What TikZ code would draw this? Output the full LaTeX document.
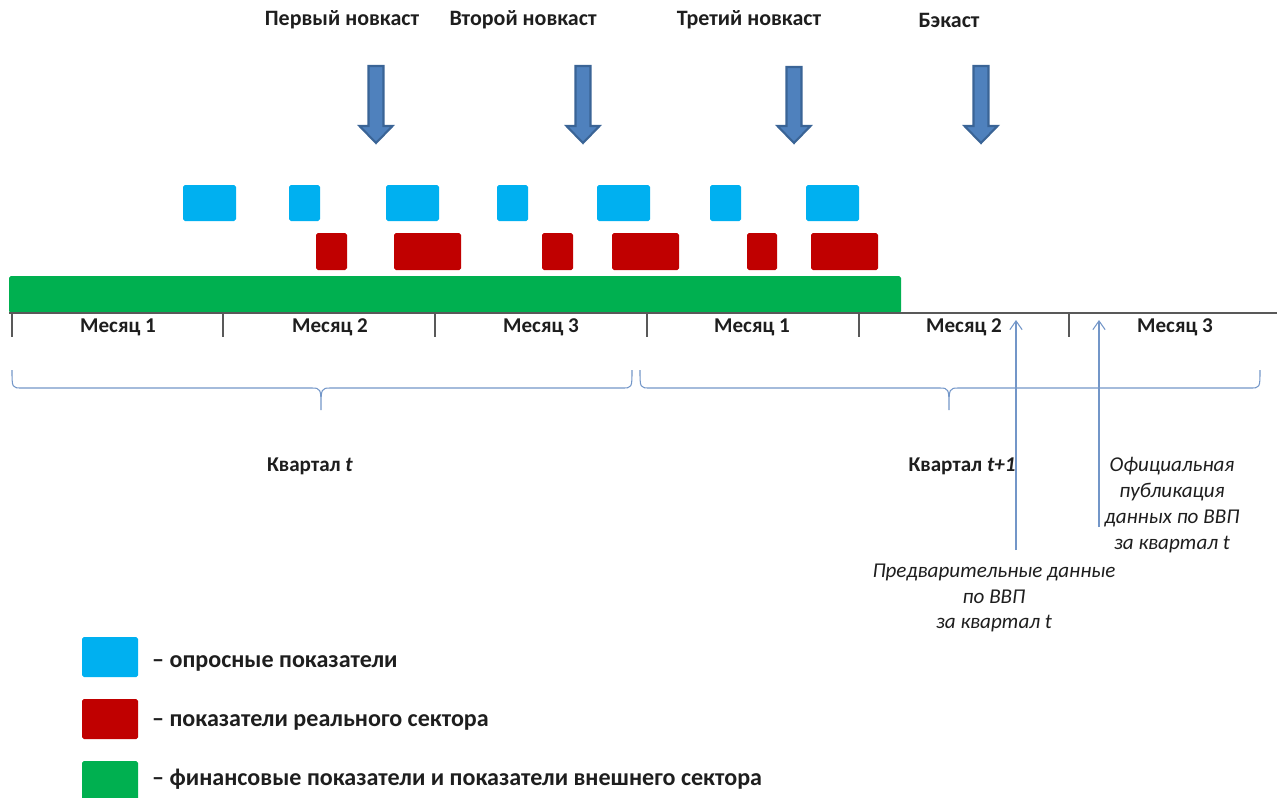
\documentclass[tikz,border=0pt]{standalone}
\usepackage{fontspec}
\setmainfont{Carlito}
\usetikzlibrary{arrows.meta}

\definecolor{survey}{HTML}{00B0F0}
\definecolor{realsec}{HTML}{C00000}
\definecolor{finsec}{HTML}{00B050}
\definecolor{arrowfill}{HTML}{4F81BD}
\definecolor{arrowedge}{HTML}{3A6496}
\definecolor{thinblue}{HTML}{7396C8}
\definecolor{axisgray}{HTML}{595959}
\definecolor{ink}{HTML}{1E1E1E}

\tikzset{
  heading/.style={font=\bfseries\fontsize{12.5}{14}\selectfont, text=ink},
  quarter/.style={font=\bfseries\fontsize{12}{14}\selectfont, text=ink},
  month/.style={font=\bfseries\fontsize{12}{14}\selectfont, text=ink},
  note/.style={font=\itshape\fontsize{12}{14.7}\selectfont, align=center, text=ink},
  legendtext/.style={font=\bfseries\fontsize{13.7}{15}\selectfont, anchor=west, text=ink},
  blockarrow/.style={fill=arrowfill, draw=arrowedge, line width=1.2pt, line join=miter},
  chip/.style={rounded corners=1pt},
  qbrace/.style={draw=thinblue, line width=0.6pt},
  pointer/.style={draw=thinblue, line width=0.6pt, -{Straight Barb[length=5pt,width=7pt]}}
}

\begin{document}
\begin{tikzpicture}[x=0.02cm, y=-0.02cm]
      \useasboundingbox (0,0) rectangle (1279,798);

      % forecast labels
      \node[heading] (nc1) at (342,20) {Первый новкаст};
      \node[heading] (nc2) at (523,20) {Второй новкаст};
      \node[heading] (nc3) at (749,20) {Третий новкаст};
      \node[heading] (bc) at (949,20) {Бэкаст};

      \begin{scope}[shift={(376,0)}]
        \draw[blockarrow] (-7.5,66) -- (7.5,66) -- (7.5,126) -- (16.5,126) -- (0,143) -- (-16.5,126) -- (-7.5,126) -- cycle;
      \end{scope}
      \begin{scope}[shift={(583,0)}]
        \draw[blockarrow] (-7.5,66) -- (7.5,66) -- (7.5,126) -- (16.5,126) -- (0,143) -- (-16.5,126) -- (-7.5,126) -- cycle;
      \end{scope}
      \begin{scope}[shift={(794,0)}]
        \draw[blockarrow] (-7.5,67) -- (7.5,67) -- (7.5,126) -- (16.5,126) -- (0,143) -- (-16.5,126) -- (-7.5,126) -- cycle;
      \end{scope}
      \begin{scope}[shift={(981,0)}]
        \draw[blockarrow] (-7.5,66) -- (7.5,66) -- (7.5,126) -- (16.5,126) -- (0,143) -- (-16.5,126) -- (-7.5,126) -- cycle;
      \end{scope}

      % survey indicators
      \fill[survey, chip] (183,185) rectangle (236,221);
      \fill[survey, chip] (289,185) rectangle (320,221);
      \fill[survey, chip] (386,185) rectangle (439,221);
      \fill[survey, chip] (497,185) rectangle (528,221);
      \fill[survey, chip] (597,185) rectangle (650,221);
      \fill[survey, chip] (710,185) rectangle (741,221);
      \fill[survey, chip] (806,185) rectangle (859,221);

      % real sector indicators
      \fill[realsec, chip] (316,233) rectangle (347,270);
      \fill[realsec, chip] (394,233) rectangle (461,270);
      \fill[realsec, chip] (542,233) rectangle (573,270);
      \fill[realsec, chip] (612,233) rectangle (679,270);
      \fill[realsec, chip] (747,233) rectangle (777,270);
      \fill[realsec, chip] (811,233) rectangle (878,270);

      % financial and external sector
      \fill[finsec, chip] (9,276) rectangle (901,313);

      % timeline
      \draw[axisgray, line width=1pt] (9,313) -- (1277,313);
      \draw[axisgray, line width=1pt] (12,313) -- (12,337);
      \draw[axisgray, line width=1pt] (223,313) -- (223,337);
      \draw[axisgray, line width=1pt] (435,313) -- (435,337);
      \draw[axisgray, line width=1pt] (647,313) -- (647,337);
      \draw[axisgray, line width=1pt] (859,313) -- (859,337);
      \draw[axisgray, line width=1pt] (1069,313) -- (1069,337);

      \node[month] (m1) at (118,327) {Месяц 1};
      \node[month] (m2) at (330,327) {Месяц 2};
      \node[month] (m3) at (541,327) {Месяц 3};
      \node[month] (m4) at (752,327) {Месяц 1};
      \node[month] (m5) at (964,327) {Месяц 2};
      \node[month] (m6) at (1175,327) {Месяц 3};

      % quarters
      \draw[qbrace] (12,370) .. controls (12,388) .. (22,388) -- (311,388)
        .. controls (321,388) .. (321,410) .. controls (321,388) .. (331,388)
        -- (622,388) .. controls (632,388) .. (632,370);
      \draw[qbrace] (640,370) .. controls (640,388) .. (650,388) -- (939,388)
        .. controls (949,388) .. (949,410) .. controls (949,388) .. (959,388)
        -- (1250,388) .. controls (1260,388) .. (1260,370);
      \node[quarter] (qt) at (310,466) {Квартал \textit{t}};
      \node[quarter] (qt1) at (962,466) {Квартал \textit{t+1}};

      % GDP releases
      \coordinate (prelimtail) at (1016,550);
      \coordinate (prelimhead) at (1016,320);
      \coordinate (officialtail) at (1099,527);
      \coordinate (officialhead) at (1099,320);
      \draw[pointer] (prelimtail) -- (prelimhead);
      \draw[pointer] (officialtail) -- (officialhead);
      \node[note] (prelim) at (994,598) {Предварительные данные\\по ВВП\\за квартал t};
      \node[note] (official) at (1172,505) {Официальная\\публикация\\данных по ВВП\\за квартал t};

      % legend
      \fill[survey, chip] (82,637) rectangle (138,677);
      \fill[realsec, chip] (82,699) rectangle (138,739);
      \fill[finsec, chip] (82,761) rectangle (138,800);
      \node[legendtext] (lgsurvey) at (146,663) {– опросные показатели};
      \node[legendtext] (lgreal) at (146,722) {– показатели реального сектора};
      \node[legendtext] (lgfin) at (146,779) {– финансовые показатели и показатели внешнего сектора};
\end{tikzpicture}
\end{document}
